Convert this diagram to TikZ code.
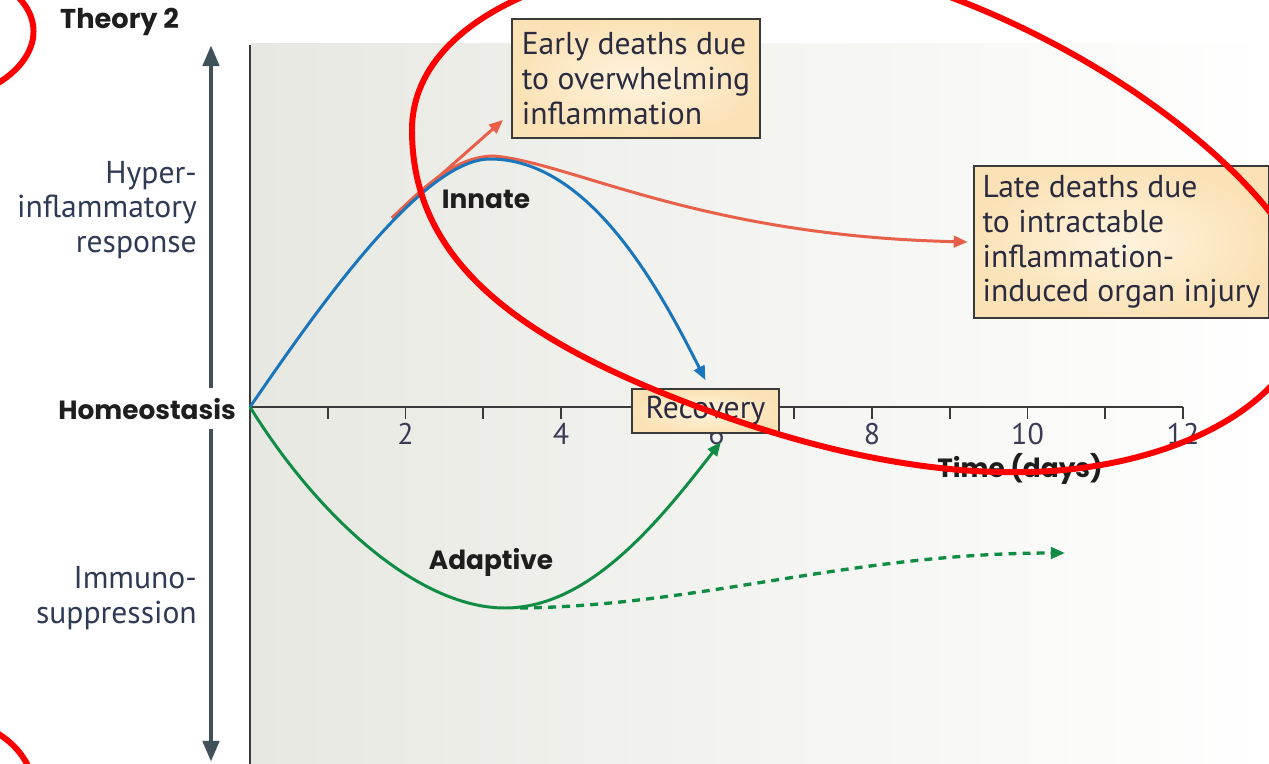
\documentclass[tikz,border=0pt]{standalone}
\usepackage{fontspec}
\setmainfont{PT Sans}
\newfontfamily\geo{Poppins}
\usetikzlibrary{arrows.meta}
\definecolor{axisc}{HTML}{3F525C}
\definecolor{axline}{HTML}{3A3A3A}
\definecolor{bgL}{HTML}{E8E8E2}
\definecolor{boxline}{HTML}{3A3A3A}
\definecolor{boxin}{HTML}{FFF3DE}
\definecolor{boxout}{HTML}{FBE2B6}
\definecolor{txt}{HTML}{2B2B40}
\definecolor{lab}{HTML}{2F3B55}
\definecolor{dark}{HTML}{1E1E1E}
\definecolor{ticktxt}{HTML}{3B3B55}
\definecolor{innblue}{HTML}{1A75BB}
\definecolor{infred}{HTML}{E8604A}
\definecolor{adgreen}{HTML}{108C45}
\definecolor{annred}{HTML}{FF0000}
\newcommand{\fs}{\fontsize{18}{19.8}\selectfont}
\tikzset{
  curveline/.style={line width=1.7pt},
  tipS/.style={-{Triangle[length=8pt,width=6.5pt]}},
  box/.style={draw=boxline, line width=1.1pt, inner color=boxin, outer color=boxout, font=\fs, text=txt},
  ann/.style={draw=annred, line width=3.4pt},
  ylab/.style={font=\fs, text=lab, align=right, anchor=east},
  boldlab/.style={font=\geo\bfseries\fontsize{15}{18}\selectfont, text=dark},
  ticklab/.style={font=\fontsize{17}{19}\selectfont, text=ticktxt},
  axisarrow/.style={draw=axisc, line width=2.8pt, -{Triangle[length=12pt,width=9pt]}},
  axisline/.style={draw=axline, line width=1.1pt}
}
\begin{document}
\begin{tikzpicture}[x=0.02cm,y=-0.02cm]
\clip (0,0) rectangle (1269,764);
\fill[white] (0,0) rectangle (1269,764);
% background
\shade[left color=bgL, right color=white] (251,43) rectangle (1269,764);
\draw[axisline] (250,45) -- (250,764);
% y axis arrows
\coordinate (ytop) at (211,45);
\coordinate (ybot) at (211,762);
\coordinate (yup0) at (211,388);
\coordinate (ydn0) at (211,429);
\draw[axisarrow] (yup0) -- (ytop);
\draw[axisarrow] (ydn0) -- (ybot);
% labels
\node[boldlab, anchor=west, font=\geo\bfseries\fontsize{15.5}{18}\selectfont] (theory) at (54,22) {Theory 2};
\node[ylab] (hyper) at (203,210) {Hyper-\\inflammatory\\response};
\node[ylab] (immuno) at (203,598) {Immuno-\\suppression};
\node[boldlab, anchor=east] (homeo) at (242,409) {Homeostasis};
% x axis
\coordinate (o) at (250,407);
\coordinate (xend) at (1183,407);
\draw[axisline] (o) -- (xend);
\foreach \i in {1,...,12} {
  \draw[axisline] ({250+77.75*\i},407) -- ({250+77.75*\i},419);
}
\foreach \i in {2,4,...,12} {
  \node[ticklab] (t\i) at ({250+77.75*\i},434) {\i};
}
\node[boldlab] (time) at (1020,469) {Time (days)};
% boxes
\node[box, anchor=north west, align=left, minimum width=4.96cm, minimum height=2.38cm, inner xsep=0pt, inner ysep=0pt] (early) at (511,18) {Early deaths due\\to overwhelming\\inflammation};
\node[box, anchor=north west, align=left, minimum width=5.9cm, minimum height=3.04cm, inner xsep=0pt, inner ysep=0pt] (late) at (973,165) {Late deaths due\\to intractable\\inflammation-\\induced organ injury};
\node[box, anchor=north west, minimum width=2.94cm, minimum height=0.88cm, inner sep=0pt] (rec) at (631,388) {Recovery};
% curves
\coordinate (innpk) at (490,159);
\coordinate (admin) at (505,608);
\coordinate (rb) at (392,218);
\draw[curveline, infred, tipS] (rb) -- ([xshift=-4.5pt,yshift=10.8pt]early.south west);
\draw[curveline, infred, tipS] (rb) .. controls (425,186) and (455,157) .. (493,156) .. controls (570,162) and (700,236) .. ([xshift=-3pt]late.west);
\draw[curveline, innblue, tipS] (o) .. controls (310,320) and (420,159) .. (innpk) .. controls (590,159) and (660,290) .. ([yshift=4.5pt]rec.north);
\draw[curveline, adgreen, tipS] (o) .. controls (320,520) and (420,608) .. (admin) .. controls (590,608) and (660,520) .. ([xshift=8.8pt,yshift=-4.5pt]rec.south);
\coordinate (dashend) at (1065,553);
\draw[curveline, adgreen, line width=1.9pt, dash pattern=on 4.5pt off 3.5pt, tipS] (520,608) .. controls (700,606) and (850,553) .. (dashend);
\node[boldlab] (innate) at (486,199) {Innate};
\node[boldlab] (adaptive) at (491,562) {Adaptive};
% red annotations
\draw[ann] (412,130) .. controls (412,250) and (500,330) .. (680,400)
  .. controls (800,447) and (920,475) .. (1030,472)
  .. controls (1150,469) and (1290,420) .. (1312,310)
  .. controls (1320,220) and (1130,50) .. (900,-20)
  .. controls (700,-80) and (412,-20) .. cycle;
\draw[ann] (16,-5) .. controls (45,22) and (38,60) .. (-5,85);
\draw[ann] (-8,730) .. controls (10,740) and (22,752) .. (30,770);
\end{tikzpicture}
\end{document}
